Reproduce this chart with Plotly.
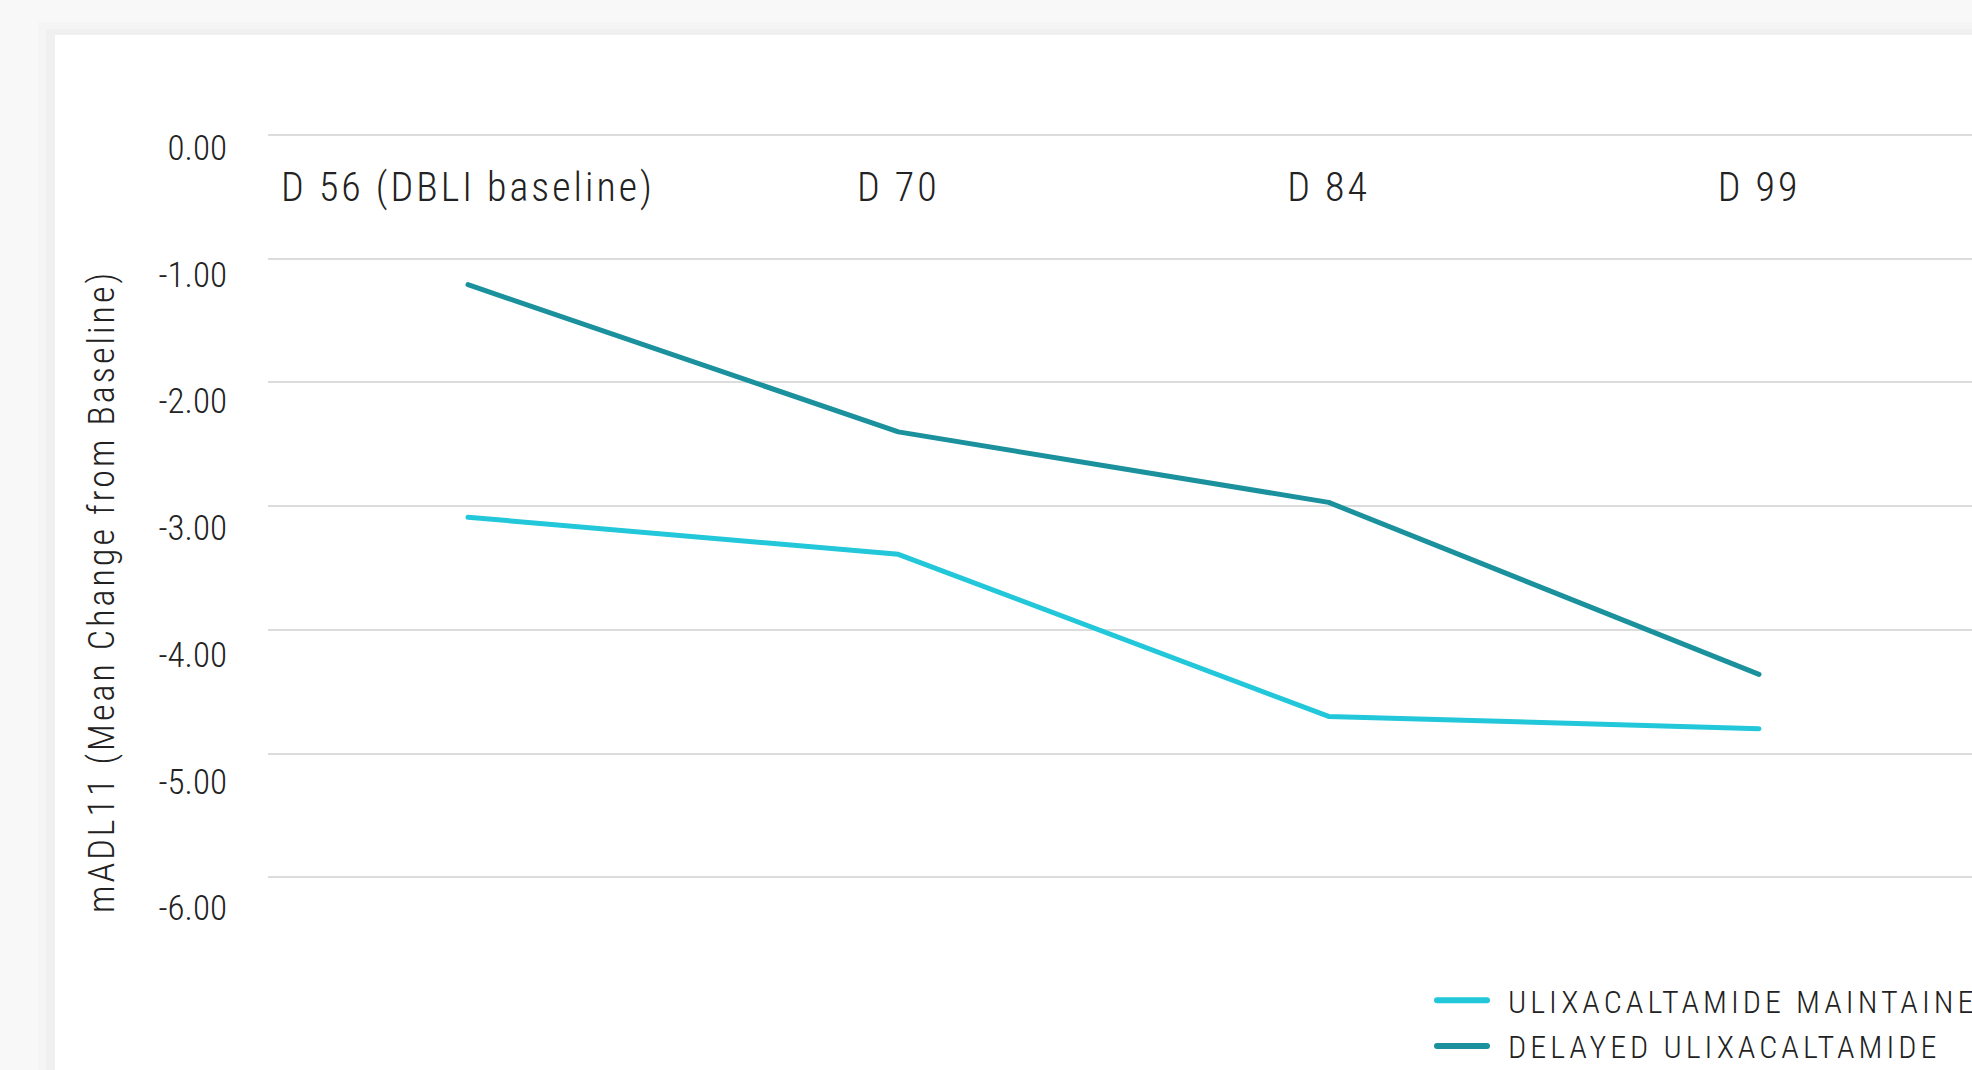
import plotly.graph_objects as go

categories = ["D 56 (DBLI baseline)", "D 70", "D 84", "D 99"]
maintained = [-3.09, -3.39, -4.70, -4.80]
delayed = [-1.21, -2.40, -2.97, -4.36]
series_names = ["ULIXACALTAMIDE MAINTAINED", "DELAYED ULIXACALTAMIDE"]
y_ticks = [0, -1, -2, -3, -4, -5, -6]
y_tick_text = ["0.00", "-1.00", "-2.00", "-3.00", "-4.00", "-5.00", "-6.00"]
y_title = "mADL11 (Mean Change from Baseline)"

W, H = 1972, 1070
L, R, T, B = 268, 0, 133, 140
PW, PH = W - L - R, H - T - B


def px(p):
    return (p - L) / PW


def py(q):
    return (H - B - q) / PH


FONT = "Roboto Condensed, Roboto, sans-serif"
TXT = "#222222"
C_MAINT = "#22c7d9"
C_DELAY = "#1a919d"

fig = go.Figure()
fig.add_trace(go.Scatter(
    x=categories, y=maintained, name=series_names[0], mode="lines",
    line=dict(color=C_MAINT, width=5), legendgroup="a", hoverinfo="skip"))
fig.add_trace(go.Scatter(
    x=categories, y=delayed, name=series_names[1], mode="lines",
    line=dict(color=C_DELAY, width=5), legendgroup="b", hoverinfo="skip"))
# carrier for the tick-label axis (invisible)
fig.add_trace(go.Scatter(
    x=categories, y=maintained, yaxis="y2", mode="lines", opacity=0,
    showlegend=False, hoverinfo="skip", line=dict(width=0)))

shapes = [
    dict(type="rect", xref="paper", yref="paper", x0=px(38), x1=1.2,
         y0=-0.5, y1=py(22), fillcolor="rgba(0,0,0,0.012)", line=dict(width=0), layer="below"),
    dict(type="rect", xref="paper", yref="paper", x0=px(46), x1=1.2,
         y0=-0.5, y1=py(29), fillcolor="rgba(0,0,0,0.02)", line=dict(width=0), layer="below"),
    dict(type="rect", xref="paper", yref="paper", x0=px(55), x1=1.2,
         y0=-0.5, y1=py(35), fillcolor="#ffffff", line=dict(width=0), layer="below"),
]

# value <-> pixel: 0 at y=135px, 123.7 px per unit (grid axis)
y_top = (135 - T) / 123.7
y_bot = -(H - B - 135) / 123.7
# label axis: labels centred 147.5px for 0, 126.75 px per unit
y2_top = (147.5 - T) / 126.75
y2_bot = -(H - B - 147.5) / 126.75

fig.update_layout(
    width=W, height=H,
    margin=dict(l=L, r=R, t=T, b=B, pad=0, autoexpand=False),
    paper_bgcolor="#f8f8f8",
    plot_bgcolor="rgba(0,0,0,0)",
    font=dict(family=FONT, color=TXT, weight=300),
    shapes=shapes,
    xaxis=dict(
        type="category", categoryorder="array", categoryarray=categories,
        range=[-0.4648, 3.495], anchor="free", position=py(160), side="bottom",
        showgrid=False, zeroline=False, showline=False, ticks="",
        ticklabelstandoff=0,
        tickfont=dict(family=FONT, size=40, color=TXT, weight=300),
    ),
    yaxis=dict(
        range=[y_bot, y_top], tickvals=y_ticks, showticklabels=False,
        showgrid=True, gridcolor="#dcdcdc", gridwidth=2,
        zeroline=False, showline=False, ticks="",
    ),
    yaxis2=dict(
        overlaying="y", side="left", range=[y2_bot, y2_top],
        tickvals=y_ticks, ticktext=y_tick_text, showgrid=False,
        zeroline=False, showline=False, ticks="", ticklabelstandoff=40,
        tickfont=dict(family=FONT, size=35, color=TXT, weight=300),
    ),
    legend=dict(
        x=px(1468), xanchor="left", y=py(973), yanchor="top",
        bgcolor="rgba(0,0,0,0)", borderwidth=0, tracegroupgap=1,
        traceorder="grouped",
        font=dict(family=FONT, size=32, color=TXT, weight=300),
    ),
    annotations=[dict(
        text=y_title, xref="paper", yref="paper", x=px(102), y=py(592),
        xanchor="center", yanchor="middle", textangle=-90, showarrow=False,
        font=dict(family=FONT, size=36, color=TXT, weight=300),
    )],
    showlegend=True,
)

post = """
var gd = document.getElementById('{plot_id}');
function styling(){
  gd.querySelectorAll('.xtick text').forEach(function(t){t.style.letterSpacing='3px';});
  gd.querySelectorAll('.legendtext').forEach(function(t){t.style.letterSpacing='4px';});
  gd.querySelectorAll('.annotation-text').forEach(function(t){t.style.letterSpacing='3px';});
  gd.querySelectorAll('.legend, .legend .scrollbox').forEach(function(e){e.removeAttribute('clip-path');});
  gd.querySelectorAll('.legend .legendlines path').forEach(function(p){
    p.setAttribute('d', 'M-31,0h50'); p.style.strokeLinecap = 'round'; p.style.strokeWidth = '6px';
  });
  gd.querySelectorAll('.scatterlayer .js-line').forEach(function(p){
    p.style.strokeLinecap = 'round'; p.style.strokeLinejoin = 'round';
  });
}
styling();
gd.on('plotly_afterplot', styling);
"""

fig.write_html("out.html", post_script=post)
